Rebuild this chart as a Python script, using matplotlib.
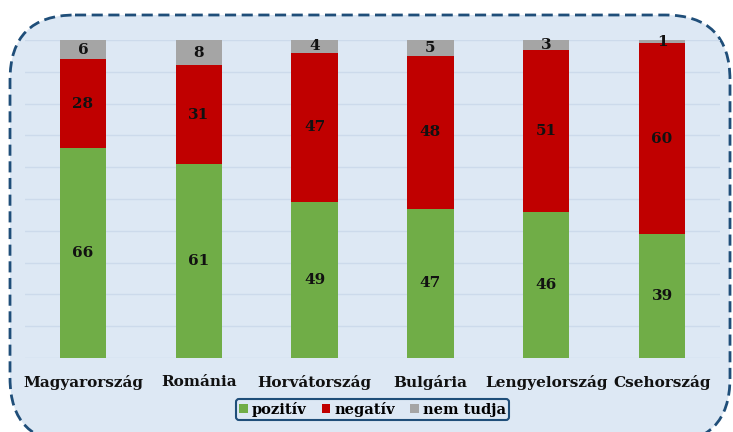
import matplotlib.pyplot as plt
from matplotlib.patches import FancyBboxPatch
import numpy as np

# Adatok
orszagok = ["Magyarország", "Románia", "Horvátország", "Bulgária", "Lengyelország", "Csehország"]
pozitiv = [66, 61, 49, 47, 46, 39]
negativ = [28, 31, 47, 48, 51, 60]
nem_tudja = [6, 8, 4, 5, 3, 1]

zold = "#70AD47"
piros = "#C00000"
szurke = "#A5A5A5"
hatter = "#DDE8F4"
keret = "#1F4E79"

plt.rcParams['font.family'] = ['DejaVu Serif']

fig = plt.figure(figsize=(7.33, 4.32), dpi=100)
fig.patch.set_facecolor("white")

# hatter tengely pixel koordinatakkal a lekerekitett, szaggatott kerethez
bg = fig.add_axes([0, 0, 1, 1], zorder=-1)
bg.set_xlim(0, 733)
bg.set_ylim(432, 0)
bg.axis("off")
doboz = FancyBboxPatch((10, 15), 720, 428,
                       boxstyle="round,pad=0,rounding_size=65",
                       facecolor=hatter, edgecolor=keret, linewidth=2,
                       linestyle=(0, (4, 2)))
bg.add_patch(doboz)

ax = fig.add_axes([25 / 733, 1 - 358 / 432, 695 / 733, 318 / 432])
ax.set_facecolor("none")

x = np.arange(len(orszagok))
alap2 = np.array(pozitiv) + np.array(negativ)
b1 = ax.bar(x, pozitiv, width=0.4, color=zold, label="pozitív", zorder=3)
b2 = ax.bar(x, negativ, width=0.4, bottom=pozitiv, color=piros, label="negatív", zorder=3)
b3 = ax.bar(x, nem_tudja, width=0.4, bottom=alap2, color=szurke, label="nem tudja", zorder=3)

for bars in (b1, b2, b3):
    ax.bar_label(bars, label_type="center", fontsize=11, fontweight="bold", color="#111111")

ax.set_ylim(0, 100)
ax.set_xlim(-0.5, len(orszagok) - 0.5)
ax.set_yticks(np.arange(0, 101, 10))
ax.yaxis.grid(True, color="#CCDAEB", linewidth=1, zorder=0)
ax.tick_params(axis="y", left=False, labelleft=False)
ax.tick_params(axis="x", bottom=False, pad=9)
ax.set_xticks(x)
ax.set_xticklabels(orszagok, fontsize=11, fontweight="bold", color="#111111")
for s in ax.spines.values():
    s.set_visible(False)

leg = ax.legend(loc="upper center", bbox_to_anchor=(0.5, -0.105), ncol=3,
                frameon=True, fancybox=True, facecolor=hatter, edgecolor=keret,
                prop={"weight": "bold", "size": 10.5}, handlelength=0.6,
                handleheight=0.6, handletextpad=0.3, columnspacing=1.0,
                borderpad=0.2, framealpha=1)
leg.get_frame().set_linewidth(1.5)

fig.savefig("out.png", dpi=100)
